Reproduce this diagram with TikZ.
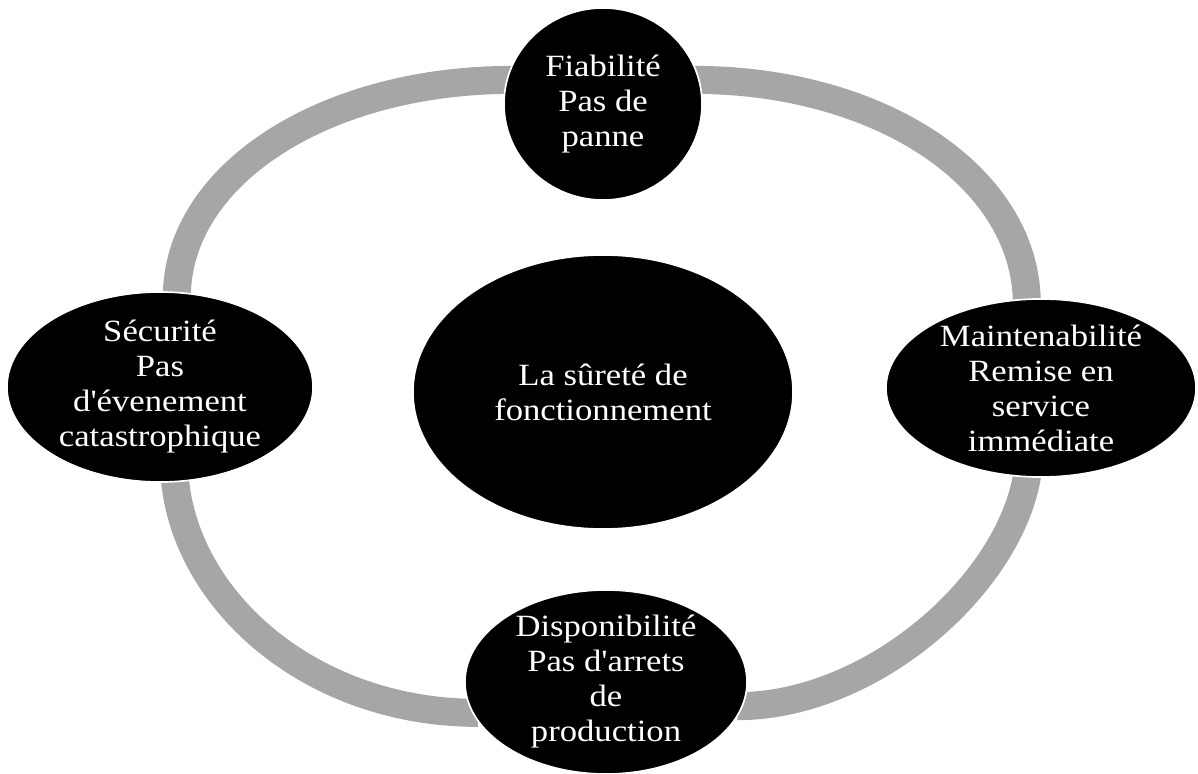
\documentclass[tikz,border=0pt]{standalone}
\usepackage{fontspec}
\setmainfont{Liberation Serif}[FakeStretch=1.12,Ligatures=TeXOff]
\usetikzlibrary{shapes.geometric,backgrounds}

\definecolor{ringgray}{RGB}{166,166,166}

\tikzset{
  bubble/.style={ellipse,fill=black,draw=white,line width=1.2pt,text=white,
    align=center,inner sep=-1cm,font=\fontsize{22pt}{24.9pt}\selectfont},
  ring/.style={draw=ringgray,line width=0.7cm,shorten <=-4pt,shorten >=-4pt}
}

\begin{document}
\begin{tikzpicture}[x=0.025cm,y=-0.025cm]

  \useasboundingbox (0,0) rectangle (1198,774);

  \node[bubble,minimum width=9.5cm,minimum height=6.85cm] (surete) at (603,392) {La sûreté de\\fonctionnement};

  \node[bubble,minimum width=4.95cm,minimum height=4.8cm] (fiab) at (603,104) {Fiabilité\\Pas de\\panne};
  \node[bubble,minimum width=7.75cm,minimum height=4.45cm] (maint) at (1041,388) {Maintenabilité\\Remise en\\service\\immédiate};
  \node[bubble,minimum width=7.05cm,minimum height=4.6cm] (dispo) at (606,682) {Disponibilité\\Pas d'arrets\\de\\production};
  \node[bubble,minimum width=7.65cm,minimum height=4.75cm] (secu) at (160,387) {Sécurité\\Pas\\d'évenement\\catastrophique};

  % the grey cycle behind the bubbles
  \begin{scope}[on background layer]
    \draw[ring] (fiab.166) .. controls +(-182,0) and +(0,-117) .. (secu.80);
    \draw[ring] (fiab.14) .. controls +(181,0) and +(0,-121) .. (maint.99);
    \draw[ring] (maint.261) .. controls +(-15,105) and +(130,0) .. (dispo.350);
    \draw[ring] (secu.279) .. controls +(10,120) and +(-160,0) .. (dispo.193);
  \end{scope}

\end{tikzpicture}
\end{document}
